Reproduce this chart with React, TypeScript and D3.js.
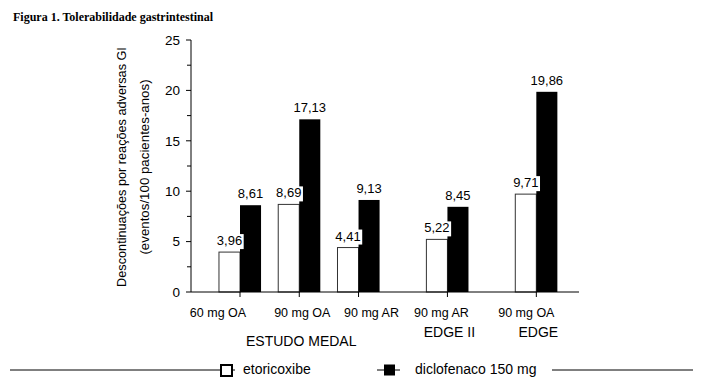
import React from "react";
import * as d3 from "d3";

// ---- data ----
const categories = ["60 mg OA", "90 mg OA", "90 mg AR", "90 mg AR", "90 mg OA"];
const etoricoxibe = [3.96, 8.69, 4.41, 5.22, 9.71];
const diclofenaco = [8.61, 17.13, 9.13, 8.45, 19.86];
const studyNames = ["ESTUDO MEDAL", "EDGE II", "EDGE"];
const studyOfCategory = [0, 0, 0, 1, 2];
const yTicks = [0, 5, 10, 15, 20, 25];
const yMinorTicks = [2.5, 7.5, 12.5, 17.5, 22.5];
const seriesNames = ["etoricoxibe", "diclofenaco 150 mg"];

// ---- layout ----
const W = 725;
const H = 382;
const slots = [0, 1, 2, 3.5, 5]; // horizontal slot of each category (gaps between studies)
const labelNudge = [-22, 3, 13, -6, -10];
const studyBaseline = [346, 337, 337];
const SANS = "'Liberation Sans', Arial, Helvetica, sans-serif";
const SERIF = "'Liberation Serif', 'Times New Roman', serif";

const locale = d3.formatLocale({ decimal: ",", thousands: ".", grouping: [3], currency: ["", ""] });
const fmt = locale.format(".2f");

export default function App() {
  const y = d3.scaleLinear().domain([0, 25]).range([292, 40]);
  const x = d3.scaleLinear().domain([-0.81, 5.72]).range([192, 579]);
  const barW = (x(1) - x(0)) * 0.355;
  const axisX = 191;
  const y0 = y(0);

  const labels: { cx: number; top: number; text: string }[] = [];
  categories.forEach((_, i) => {
    const c = x(slots[i]);
    labels.push({ cx: c - barW / 2, top: y(etoricoxibe[i]), text: fmt(etoricoxibe[i]) });
    labels.push({ cx: c + barW / 2, top: y(diclofenaco[i]), text: fmt(diclofenaco[i]) });
  });

  const studyCenters = studyNames.map((_, s) => {
    const idx = studyOfCategory.map((v, i) => (v === s ? i : -1)).filter((v) => v >= 0);
    const xs = idx.map((i) => x(slots[i]));
    return (d3.min(xs)! + d3.max(xs)!) / 2;
  });

  return (
    <svg
      width={W}
      height={H}
      viewBox={`0 0 ${W} ${H}`}
      style={{ position: "absolute", left: 0, top: 0, background: "#fff" }}
    >
      <rect x={0} y={0} width={W} height={H} fill="#fff" />
      {/* title */}
      <text x={13} y={21} fontFamily={SERIF} fontWeight="bold" fontSize={12} fill="#000">
        Figura 1. Tolerabilidade gastrintestinal
      </text>

      {/* bars */}
      {categories.map((_, i) => {
        const c = x(slots[i]);
        return (
          <g key={i}>
            <rect
              x={c - barW}
              y={y(etoricoxibe[i])}
              width={barW}
              height={y0 - y(etoricoxibe[i])}
              fill="#fff"
              stroke="#333"
              strokeWidth={1}
            />
            <rect
              x={c}
              y={y(diclofenaco[i])}
              width={barW}
              height={y0 - y(diclofenaco[i])}
              fill="#000"
            />
          </g>
        );
      })}

      {/* value labels with white boxes */}
      {labels.map((l, i) => {
        const base = l.top - 7;
        const tw = l.text.length * 6.6;
        return (
          <g key={i}>
            <rect x={l.cx - tw / 2 - 1} y={base - 11} width={tw + 2} height={15} fill="#fff" />
            <text x={l.cx} y={base} textAnchor="middle" fontFamily={SANS} fontSize={13} fill="#000">
              {l.text}
            </text>
          </g>
        );
      })}

      {/* y axis */}
      <line x1={axisX} x2={axisX} y1={y(25)} y2={y0} stroke="#000" strokeWidth={1} />
      {yTicks.map((t) => (
        <g key={t}>
          <line x1={axisX - 5} x2={axisX} y1={y(t)} y2={y(t)} stroke="#000" />
          <text
            x={180}
            y={y(t)}
            dy="0.35em"
            textAnchor="end"
            fontFamily={SANS}
            fontSize={13.5}
            fill="#000"
          >
            {t}
          </text>
        </g>
      ))}
      {yMinorTicks.map((t) => (
        <line key={t} x1={axisX - 4} x2={axisX} y1={y(t)} y2={y(t)} stroke="#000" />
      ))}

      {/* y axis title */}
      <g transform={`translate(126,167) rotate(-90)`}>
        <text textAnchor="middle" fontFamily={SANS} fontSize={12.7} fill="#000">
          Descontinuações por reações adversas GI
        </text>
      </g>
      <g transform={`translate(149,167) rotate(-90)`}>
        <text textAnchor="middle" fontFamily={SANS} fontSize={13.3} fill="#000">
          (eventos/100 pacientes-anos)
        </text>
      </g>

      {/* x axis */}
      <line x1={axisX} x2={579} y1={y0} y2={y0} stroke="#000" strokeWidth={1} />
      {categories.map((cat, i) => (
        <g key={i}>
          <line x1={x(slots[i])} x2={x(slots[i])} y1={y0} y2={y0 + 5} stroke="#000" />
          <text
            x={x(slots[i]) + labelNudge[i]}
            y={317}
            textAnchor="middle"
            fontFamily={SANS}
            fontSize={12.5}
            fill="#000"
          >
            {cat}
          </text>
        </g>
      ))}
      {studyNames.map((s, k) => (
        <text
          key={s}
          x={studyCenters[k] + 2}
          y={studyBaseline[k]}
          textAnchor="middle"
          fontFamily={SANS}
          fontSize={14}
          fill="#000"
        >
          {s}
        </text>
      ))}

      {/* legend */}
      <line x1={10} x2={235} y1={370} y2={370} stroke="#000" />
      <rect x={221} y={365} width={11} height={11} fill="#fff" stroke="#000" strokeWidth={2} />
      <text x={243} y={374} fontFamily={SANS} fontSize={14} fill="#000">
        {seriesNames[0]}
      </text>
      <line x1={377} x2={400} y1={370} y2={370} stroke="#000" />
      <rect x={384} y={364.5} width={11} height={11} fill="#000" />
      <text x={415} y={374} fontFamily={SANS} fontSize={14} fill="#000">
        {seriesNames[1]}
      </text>
      <line x1={552} x2={693} y1={370} y2={370} stroke="#000" />
    </svg>
  );
}
